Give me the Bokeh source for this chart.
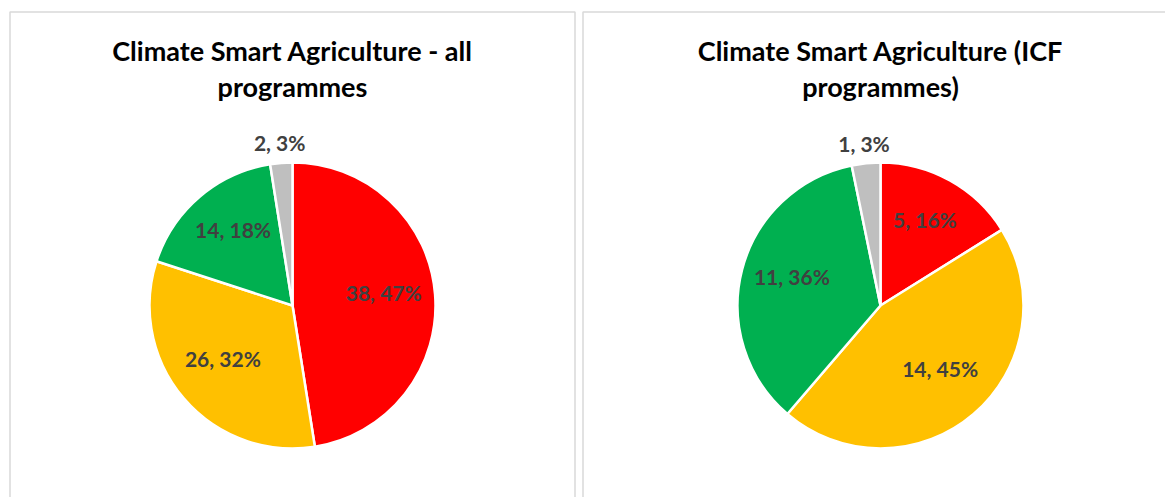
import math
from bokeh.plotting import figure
from bokeh.models import Range1d, ColumnDataSource
from bokeh.core.properties import value
from bokeh.embed import file_html
from bokeh.resources import INLINE

# ---- data ----
categories = ["Red", "Amber", "Green", "Not rated"]
colors = ["#FF0000", "#FFC000", "#00B050", "#BFBFBF"]
all_counts = [38, 26, 14, 2]
all_labels = ["38, 47%", "26, 32%", "14, 18%", "2, 3%"]
icf_counts = [5, 14, 11, 1]
icf_labels = ["5, 16%", "14, 45%", "11, 36%", "1, 3%"]
titles_left = ["Climate Smart Agriculture - all", "programmes"]
titles_right = ["Climate Smart Agriculture (ICF", "programmes)"]

W, H = 1165, 497
p = figure(width=W, height=H, output_backend="svg", toolbar_location=None,
           x_range=Range1d(0, W), y_range=Range1d(0, H), min_border=0)
p.axis.visible = False
p.grid.visible = False
p.outline_line_color = None
p.background_fill_color = "white"
p.border_fill_color = "white"

def Y(py):
    return H - py

# panel borders
p.multi_line(xs=[[9.5, 9.5, 574.5, 574.5], [582.5, 582.5, 1170]],
             ys=[[Y(600), Y(11.5), Y(11.5), Y(600)], [Y(600), Y(11.5), Y(11.5)]],
             line_color="#D9D9D9", line_width=1.5)

R = 143

def draw_pie(cx, cy, counts, labels, title_lines):
    total = float(sum(counts))
    starts, ends, lx, ly = [], [], [], []
    cum = 0.0
    for c in counts:
        a0 = cum / total
        cum += c
        a1 = cum / total
        starts.append(math.pi / 2 - a0 * 2 * math.pi)
        ends.append(math.pi / 2 - a1 * 2 * math.pi)
        mid = (a0 + a1) / 2 * 2 * math.pi
        inside = (a1 - a0) > 0.05
        f = 0.64 if inside else 1.14
        lx.append(cx + f * R * math.sin(mid))
        ly.append(cy + f * R * math.cos(mid) + (6 if inside else 0))
    src = ColumnDataSource(dict(start=starts, end=ends, color=colors,
                                x=[cx] * 4, y=[cy] * 4))
    p.wedge(x="x", y="y", radius=R, start_angle="start", end_angle="end",
            direction="clock", fill_color="color", line_color="white",
            line_width=2.5, source=src)
    p.text(x=lx, y=ly, text=labels, text_align="center", text_baseline="middle",
           text_font=value("Lato"), text_font_style="bold",
           text_font_size="21px", text_color="#404040")
    p.text(x=[cx, cx], y=[Y(50), Y(86)], text=title_lines, text_align="center",
           text_baseline="middle", text_font=value("Lato"),
           text_font_style="bold", text_font_size="27px", text_color="#000000")

draw_pie(292, Y(305), all_counts, all_labels, titles_left)
draw_pie(880, Y(305), icf_counts, icf_labels, titles_right)

open("out.html", "w").write(file_html(p, INLINE))
